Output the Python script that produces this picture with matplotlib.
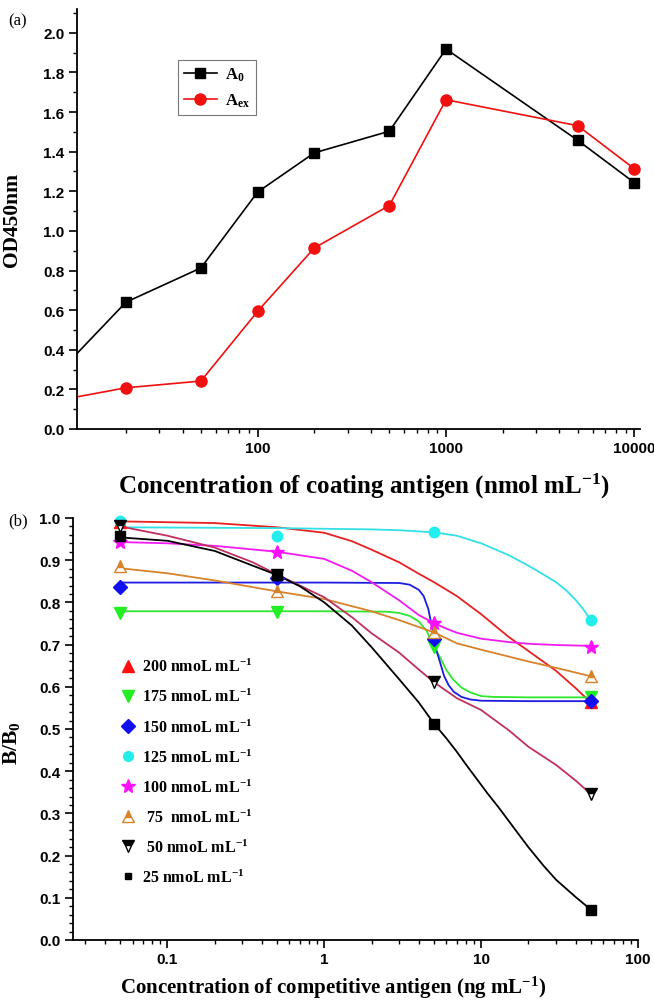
import matplotlib
matplotlib.use('Agg')
import matplotlib.pyplot as plt
from matplotlib.lines import Line2D
from matplotlib.ticker import MultipleLocator, LogLocator, FuncFormatter, NullFormatter

plt.rcParams['mathtext.fontset'] = 'custom'
plt.rcParams['mathtext.rm'] = 'Liberation Serif:bold'
plt.rcParams['mathtext.bf'] = 'Liberation Serif:bold'
plt.rcParams['mathtext.it'] = 'Liberation Serif:bold'

# ---------------- data, panel (a)
coat_conc = [10, 20, 50, 100, 200, 500, 1000, 5000, 10000]
od_a0 = [0.34, 0.64, 0.813, 1.196, 1.394, 1.503, 1.918, 1.457, 1.243]
od_aex = [0.155, 0.208, 0.242, 0.594, 0.914, 1.128, 1.662, 1.531, 1.313]

# ---------------- data, panel (b)
comp_conc = [0.05, 0.5, 5, 50]
pts_175 = [0.776, 0.778, 0.694, 0.575]
pts_150 = [0.836, 0.858, 0.713, 0.566]
pts_125 = [0.994, 0.957, 0.968, 0.758]
pts_100 = [0.942, 0.920, 0.751, 0.695]
pts_75 = [0.887, 0.826, 0.729, 0.625]
pts_50 = [0.982, 0.866, 0.611, 0.346]
pts_25 = [0.957, 0.865, 0.513, 0.072]
pts_200_x = [0.05, 50]
pts_200 = [0.990, 0.563]

# fitted curves
fit200_x = [0.05, 0.2, 0.5, 1, 1.5, 2, 3, 4, 5, 7, 10, 15, 20, 30, 40, 50]
fit200_y = [0.992, 0.988, 0.978, 0.965, 0.945, 0.925, 0.895, 0.868, 0.848, 0.815, 0.772, 0.718, 0.685, 0.638, 0.597, 0.563]
fit175_x = [0.05, 1, 2.5, 3, 3.5, 4, 4.5, 5, 5.5, 6, 6.6, 7.5, 8.5, 10, 12, 20, 50]
fit175_y = [0.779, 0.779, 0.778, 0.775, 0.768, 0.755, 0.732, 0.695, 0.668, 0.640, 0.618, 0.598, 0.587, 0.578, 0.576, 0.575, 0.575]
fit150_x = [0.05, 1, 3, 3.5, 4, 4.3, 4.6, 4.9, 5.2, 5.5, 5.8, 6.2, 6.7, 7.5, 8.5, 10, 20, 50]
fit150_y = [0.847, 0.847, 0.846, 0.842, 0.830, 0.815, 0.785, 0.735, 0.685, 0.655, 0.626, 0.604, 0.588, 0.576, 0.570, 0.567, 0.566, 0.566]
fit125_x = [0.05, 0.5, 2, 3, 5, 7, 10, 15, 20, 25, 30, 35, 40, 45, 50]
fit125_y = [0.978, 0.976, 0.973, 0.971, 0.966, 0.958, 0.940, 0.912, 0.887, 0.866, 0.848, 0.828, 0.806, 0.783, 0.758]
fit100_x = [0.05, 0.1, 0.2, 0.5, 1, 1.5, 2, 3, 4, 5, 6, 7, 10, 15, 20, 30, 50]
fit100_y = [0.943, 0.940, 0.934, 0.920, 0.903, 0.875, 0.848, 0.805, 0.770, 0.751, 0.738, 0.728, 0.714, 0.706, 0.702, 0.699, 0.697]
fit75_x = [0.05, 0.1, 0.2, 0.5, 1, 2, 3, 5, 7, 10, 20, 30, 50]
fit75_y = [0.881, 0.869, 0.852, 0.826, 0.808, 0.779, 0.758, 0.729, 0.703, 0.688, 0.660, 0.645, 0.625]
fit50_x = [0.05, 0.1, 0.2, 0.35, 0.5, 1, 1.5, 2, 3, 4, 5, 7, 10, 15, 20, 30, 40, 50]
fit50_y = [0.980, 0.958, 0.930, 0.895, 0.866, 0.812, 0.765, 0.727, 0.681, 0.641, 0.611, 0.573, 0.545, 0.497, 0.458, 0.415, 0.378, 0.346]
fit25_x = [0.05, 0.1, 0.2, 0.35, 0.5, 0.7, 1, 1.5, 2, 3, 4, 5, 6, 7, 8, 9.4, 11, 13, 16, 20, 25, 30, 40, 50]
fit25_y = [0.954, 0.946, 0.922, 0.887, 0.865, 0.838, 0.800, 0.745, 0.694, 0.618, 0.563, 0.513, 0.478, 0.446, 0.416, 0.381, 0.347, 0.313, 0.268, 0.220, 0.176, 0.143, 0.102, 0.072]

legend_b = ['200 nmoL mL$^{-1}$', '175 nmoL mL$^{-1}$', '150 nmoL mL$^{-1}$',
            '125 nmoL mL$^{-1}$', '100 nmoL mL$^{-1}$', ' 75  nmoL mL$^{-1}$',
            ' 50 nmoL mL$^{-1}$', '25 nmoL mL$^{-1}$']

SERIF = 'Liberation Serif'
SANS = 'Liberation Sans'

fig = plt.figure(figsize=(6.54, 10.04), dpi=100)
ax1 = fig.add_axes([77/654, 574/1004, 563/654, 420/1004])
ax2 = fig.add_axes([73/654, 63/1004, 565/654, 422/1004])

fmt = FuncFormatter(lambda v, p: f'{v:g}')

def style_axis(ax):
    for s in ['top', 'right']:
        ax.spines[s].set_visible(False)
    for s in ['left', 'bottom']:
        ax.spines[s].set_linewidth(1.3)
    ax.tick_params(which='major', direction='out', length=5.5, width=1.2, labelsize=11)
    ax.tick_params(which='minor', direction='out', length=3, width=1.0)
    for lab in ax.get_xticklabels() + ax.get_yticklabels():
        lab.set_fontfamily(SANS)
        lab.set_fontweight('bold')

# ---------------- (a)
ax1.plot(coat_conc, od_a0, color='black', lw=1.2, marker='s', ms=7.5, label='A$_0$')
ax1.plot(coat_conc, od_aex, color='#f01010', lw=1.2, marker='o', ms=8, mec='#f01010', label='A$_{ex}$')
ax1.set_xscale('log')
ax1.set_xlim(11, 10700)
ax1.set_ylim(0, 2.12)
ax1.yaxis.set_major_locator(MultipleLocator(0.2))
ax1.yaxis.set_minor_locator(MultipleLocator(0.1))
ax1.yaxis.set_major_formatter(FuncFormatter(lambda v, p: f'{v:.1f}'))
ax1.xaxis.set_major_locator(LogLocator(base=10, numticks=10))
ax1.xaxis.set_minor_locator(LogLocator(base=10, subs=range(2, 10), numticks=20))
ax1.xaxis.set_major_formatter(fmt)
ax1.xaxis.set_minor_formatter(NullFormatter())
style_axis(ax1)
ax1.set_ylabel('OD450nm', fontfamily=SERIF, fontweight='bold', fontsize=15.5)
ax1.yaxis.set_label_coords(-0.098, 0.5)
ax1.set_xlabel('Concentration of coating antigen (nmol mL$^{-1}$)', fontfamily=SERIF,
               fontweight='bold', fontsize=18)
ax1.xaxis.set_label_coords(0.51, -0.1)
leg1 = ax1.legend(loc='upper left', bbox_to_anchor=(0.179, 0.879), borderaxespad=0,
                  prop={'family': SERIF, 'weight': 'bold', 'size': 12},
                  fancybox=False, edgecolor='#555555', handlelength=2.0,
                  handletextpad=0.5, borderpad=0.35, labelspacing=0.5)
leg1.get_frame().set_linewidth(0.8)

# ---------------- (b)
curves = [
    (fit200_x, fit200_y, '#e82020'),
    (fit175_x, fit175_y, '#2ee62e'),
    (fit150_x, fit150_y, '#1c1ce0'),
    (fit125_x, fit125_y, '#33e0e6'),
    (fit100_x, fit100_y, '#f01cf0'),
    (fit75_x, fit75_y, '#d8822a'),
    (fit50_x, fit50_y, '#c0305e'),
    (fit25_x, fit25_y, '#000000'),
]
for cx, cy, col in curves:
    ax2.plot(cx, cy, color=col, lw=1.3)

mk = dict(ls='none', clip_on=False, zorder=5)
ax2.plot(pts_200_x, pts_200, marker='^', ms=8, color='#ff1010', zorder=3, ls='none', clip_on=False)
ax2.plot(comp_conc, pts_175, marker='v', ms=8, color='#22ee22', **mk)
ax2.plot(comp_conc, pts_150, marker='D', ms=7, color='#1010f0', **mk)
ax2.plot(comp_conc, pts_125, marker='o', ms=7.5, color='#22eeee', **mk)
ax2.plot(comp_conc, pts_100, marker='*', ms=10, color='#ff10ff', **mk)
ax2.plot(comp_conc, pts_75, marker='^', ms=8, color='#d8822a', mfc='#d8822a',
         mfcalt='white', fillstyle='top', **mk)
ax2.plot(comp_conc, pts_50, marker='v', ms=8, color='black', mfc='black',
         mfcalt='white', fillstyle='top', **mk)
ax2.plot(comp_conc, pts_25, marker='s', ms=6.5, color='black', **mk)

ax2.set_xscale('log')
ax2.set_xlim(0.025, 100)
ax2.set_ylim(0, 1.0)
ax2.yaxis.set_major_locator(MultipleLocator(0.1))
ax2.yaxis.set_minor_locator(MultipleLocator(0.02))
ax2.yaxis.set_major_formatter(FuncFormatter(lambda v, p: f'{v:.1f}'))
ax2.xaxis.set_major_locator(LogLocator(base=10, numticks=10))
ax2.xaxis.set_minor_locator(LogLocator(base=10, subs=range(2, 10), numticks=20))
ax2.xaxis.set_major_formatter(fmt)
ax2.xaxis.set_minor_formatter(NullFormatter())
style_axis(ax2)
ax2.set_ylabel('B/B$_0$', fontfamily=SERIF, fontweight='bold', fontsize=15.5)
ax2.yaxis.set_label_coords(-0.09, 0.47)
ax2.set_xlabel('Concentration of competitive antigen (ng mL$^{-1}$)', fontfamily=SERIF,
               fontweight='bold', fontsize=15)
ax2.xaxis.set_label_coords(0.46, -0.08)

handles = [
    Line2D([], [], ls='none', marker='^', ms=8, color='#ff1010'),
    Line2D([], [], ls='none', marker='v', ms=8, color='#22ee22'),
    Line2D([], [], ls='none', marker='D', ms=7, color='#1010f0'),
    Line2D([], [], ls='none', marker='o', ms=7, color='#22eeee'),
    Line2D([], [], ls='none', marker='*', ms=10, color='#ff10ff'),
    Line2D([], [], ls='none', marker='^', ms=8, color='#d8822a', mfcalt='white', fillstyle='top'),
    Line2D([], [], ls='none', marker='v', ms=8, color='black', mfcalt='white', fillstyle='top'),
    Line2D([], [], ls='none', marker='s', ms=4, color='black'),
]
ax2.legend(handles, legend_b, loc='upper left', bbox_to_anchor=(0.083, 0.668),
           borderaxespad=0, borderpad=0, frameon=False, handlelength=1.0,
           handletextpad=0.4, labelspacing=0.8,
           prop={'family': SERIF, 'weight': 'bold', 'size': 11.5})

fig.text(8/654, 1 - 21/1004, '(a)', fontfamily=SERIF, fontsize=12, va='center')
fig.text(8/654, 1 - 521/1004, '(b)', fontfamily=SERIF, fontsize=12, va='center')

plt.savefig('out.png', dpi=100)
